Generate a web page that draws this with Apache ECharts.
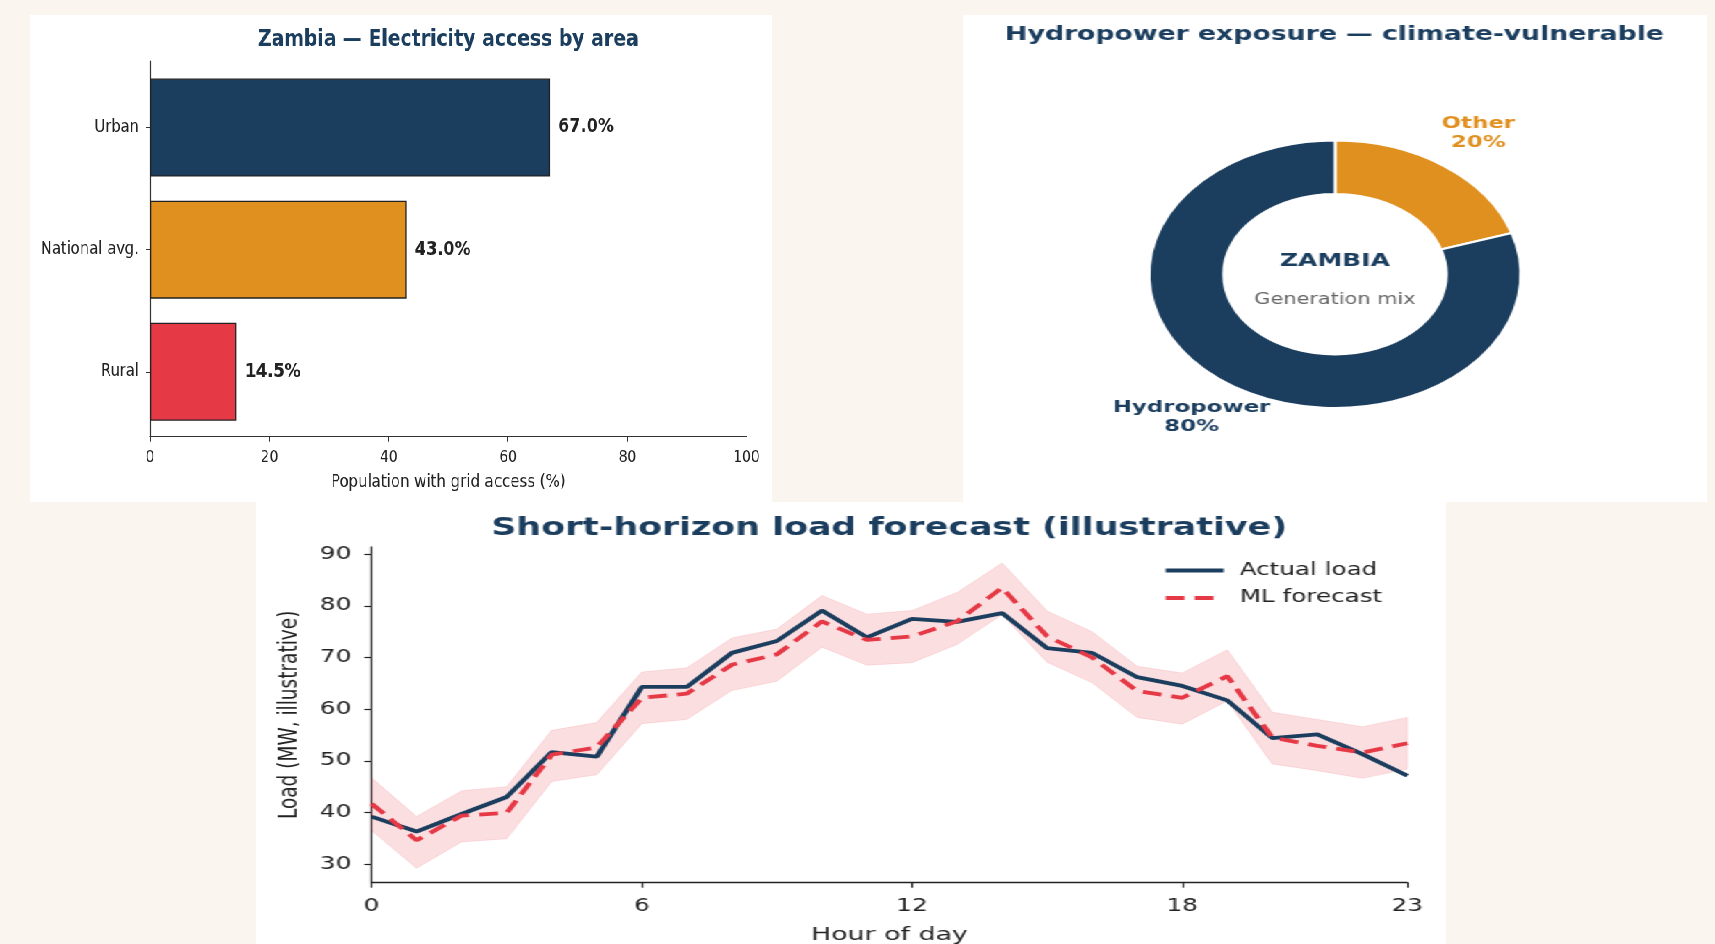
<!DOCTYPE html>
<html>
<head>
<meta charset="utf-8">
<title>Zambia electricity</title>
<script src="https://cdn.jsdelivr.net/npm/echarts@6/dist/echarts.min.js"></script>
<style>
  body {
    margin: 0;
    width: 1715px;
    height: 944px;
    overflow: hidden;
    position: relative;
    background: #faf6ef;
  }
  .panel {
    position: absolute;
    background: #fff;
  }
  /* the source image squashes / stretches each panel a little, so we do the same */
  #accessPanel { left: 30px; top: 15px; width: 878.1px; height: 487px; transform: scaleX(0.845); transform-origin: 0 0; }
  #mixPanel { left: 963px; top: 15px; width: 534.5px; height: 487px; transform: scaleX(1.39); transform-origin: 0 0; }
  #loadPanel { left: 256px; top: 502px; width: 820.7px; height: 442px; transform: scaleX(1.45); transform-origin: 0 0; }
</style>
</head>
<body>
<div id="accessPanel" class="panel"></div>
<div id="mixPanel" class="panel"></div>
<div id="loadPanel" class="panel"></div>

<script>
// ---- data ----
// access by area (bottom to top, like the chart)
const areas = ['Rural', 'National avg.', 'Urban']
const accessPct = [14.5, 43.0, 67.0]

// generation mix
const sources = ['Other', 'Hydropower']
const sharePct = [20, 80]

// load forecast
const hours = [0, 1, 2, 3, 4, 5, 6, 7, 8, 9, 10, 11, 12, 13, 14, 15, 16, 17, 18, 19, 20, 21, 22, 23]
const actualLoad = [39.2, 36.3, 39.7, 43.0, 51.7, 50.8, 64.3, 64.3, 70.9, 73.2, 79.1, 73.9, 77.5, 76.9, 78.6, 71.8, 70.9, 66.2, 64.5, 61.7, 54.4, 55.1, 51.3, 47.1]
const mlForecast = [41.7, 34.6, 39.4, 39.9, 51.2, 52.6, 62.2, 63.0, 68.6, 70.6, 77.0, 73.4, 74.1, 77.0, 83.5, 74.1, 70.0, 63.5, 62.2, 66.4, 54.5, 52.9, 51.6, 53.4]
const bandUpper = [46.7, 39.2, 44.2, 45.0, 55.9, 57.4, 67.2, 68.0, 73.8, 75.5, 82.0, 78.4, 79.1, 82.6, 88.3, 79.0, 75.0, 68.3, 67.0, 71.5, 59.4, 58.0, 56.6, 58.4]
const bandLower = [36.5, 29.2, 34.3, 34.9, 46.0, 47.3, 57.2, 58.0, 63.6, 65.4, 72.0, 68.5, 69.0, 72.5, 78.3, 69.1, 65.1, 58.4, 57.1, 61.6, 49.4, 48.1, 46.6, 48.4]
const hourTicks = [0, 6, 12, 18, 23]
const loadTicks = [30, 40, 50, 60, 70, 80, 90]

// ---- colours ----
const NAVY = '#1b3d5e'
const ORANGE = '#e0901f'
const RED = '#e63946'
const INK = '#222'
const areaColors = [RED, ORANGE, NAVY]
const sourceColors = [ORANGE, NAVY]

const SANS = "'DejaVu Sans', sans-serif"

// 电力接入柱状图
// grid 0 carries the visible spines and x ticks, grid 1 holds the bars (matplotlib leaves a margin above/below)
const accessChart = echarts.init(document.getElementById('accessPanel'))
accessChart.setOption({
  animation: false,
  title: {
    text: 'Zambia — Electricity access by area',
    left: 495,
    top: 10.8,
    padding: 0,
    textAlign: 'center',
    textStyle: { fontFamily: SANS, fontSize: 22.3, fontWeight: 'bold', color: NAVY, lineHeight: 28 }
  },
  grid: [
    { left: 142, right: 29.9, top: 46, bottom: 65.3, outerBoundsMode: 'none' },
    { left: 142, right: 29.9, top: 51.5, bottom: 69.2, outerBoundsMode: 'none' }
  ],
  xAxis: [
    {
      gridIndex: 0,
      type: 'value',
      min: 0,
      max: 100,
      interval: 20,
      splitLine: { show: false },
      axisLine: { show: true, lineStyle: { color: '#333', width: 1.2 } },
      axisTick: { show: true, length: 5, lineStyle: { color: '#333' } },
      axisLabel: { fontFamily: SANS, fontSize: 16.5, color: INK, margin: 13 },
      name: 'Population with grid access (%)',
      nameLocation: 'middle',
      nameGap: 37,
      nameTextStyle: { fontFamily: SANS, fontSize: 17.7, color: INK }
    },
    {
      gridIndex: 1,
      type: 'value',
      min: 0,
      max: 100,
      show: false
    }
  ],
  yAxis: [
    {
      gridIndex: 0,
      type: 'value',
      min: 0,
      max: 1,
      splitLine: { show: false },
      axisLine: { show: true, lineStyle: { color: '#333', width: 1.2 } },
      axisTick: { show: false },
      axisLabel: { show: false }
    },
    {
      gridIndex: 1,
      type: 'category',
      data: areas,
      axisLine: { show: false },
      axisTick: { show: true, alignWithLabel: true, length: 5, lineStyle: { color: '#333' } },
      axisLabel: { fontFamily: SANS, fontSize: 17.5, color: INK, margin: 13 }
    }
  ],
  series: [
    {
      type: 'bar',
      xAxisIndex: 1,
      yAxisIndex: 1,
      barWidth: 98,
      data: accessPct.map((v, i) => ({
        value: v,
        itemStyle: { color: areaColors[i], borderColor: '#222', borderWidth: 1.3 }
      })),
      label: {
        show: true,
        position: 'right',
        distance: 10,
        formatter: p => p.value.toFixed(1) + '%',
        fontFamily: SANS,
        fontSize: 19,
        fontWeight: 'bold',
        color: INK
      }
    }
  ]
})

// 发电结构环形图
const cx = 267.6
const cy = 259.3
const rOuter = 133.7
const mixChart = echarts.init(document.getElementById('mixPanel'))
mixChart.setOption({
  animation: false,
  title: {
    text: 'Hydropower exposure — climate-vulnerable',
    left: 267.3,
    top: 8,
    padding: 0,
    textAlign: 'center',
    textStyle: { fontFamily: SANS, fontSize: 19.2, fontWeight: 'bold', color: NAVY, lineHeight: 24 }
  },
  graphic: [
    {
      type: 'text',
      x: cx,
      y: 246,
      style: { text: 'ZAMBIA', font: 'bold 18px ' + SANS, fill: NAVY, align: 'center', verticalAlign: 'middle' }
    },
    {
      type: 'text',
      x: cx,
      y: 285,
      style: { text: 'Generation mix', font: '15px ' + SANS, fill: '#666', align: 'center', verticalAlign: 'middle' }
    }
  ],
  series: [
    {
      type: 'pie',
      center: [cx, cy],
      radius: [rOuter * 0.6, rOuter],
      startAngle: 90,
      clockwise: true,
      silent: true,
      label: { show: false },
      labelLine: { show: false },
      itemStyle: { borderColor: '#fff', borderWidth: 2 },
      data: sources.map((s, i) => ({ name: s, value: sharePct[i], itemStyle: { color: sourceColors[i] } }))
    },
    {
      // invisible ring just to place the outside labels on the slice mid-angles
      type: 'pie',
      center: [cx, cy + 1],
      radius: [rOuter * 1.16, rOuter * 1.42],
      startAngle: 90,
      clockwise: true,
      silent: true,
      itemStyle: { color: 'rgba(0,0,0,0)' },
      labelLine: { show: false },
      label: {
        show: true,
        position: 'inside',
        formatter: p => p.name + '\n' + p.value + '%',
        fontFamily: SANS,
        fontSize: 16.5,
        fontWeight: 'bold',
        lineHeight: 18.5
      },
      data: sources.map((s, i) => ({ name: s, value: sharePct[i], label: { color: sourceColors[i] } }))
    }
  ]
})

// 负荷预测折线图
const loadChart = echarts.init(document.getElementById('loadPanel'))
loadChart.setOption({
  animation: false,
  title: {
    text: 'Short-horizon load forecast (illustrative)',
    left: 436.7,
    top: 13,
    padding: 0,
    textAlign: 'center',
    textStyle: { fontFamily: SANS, fontSize: 24, fontWeight: 'bold', color: NAVY, lineHeight: 28 }
  },
  legend: {
    data: ['Actual load', 'ML forecast'],
    orient: 'vertical',
    left: 625.5,
    top: 60,
    padding: 0,
    itemWidth: 40,
    itemHeight: 14,
    itemGap: 10.5,
    itemStyle: { opacity: 0 },
    lineStyle: { width: 3.8 },
    textStyle: { fontFamily: SANS, fontSize: 17, color: INK, padding: [0, 0, 0, 6] }
  },
  grid: { left: 79.7, right: 26.9, top: 45, bottom: 61.3, outerBoundsMode: 'none' },
  xAxis: {
    type: 'value',
    min: 0,
    max: 23,
    splitLine: { show: false },
    axisLine: { show: true, lineStyle: { color: '#222', width: 1.3 } },
    axisTick: { show: true, length: 5, customValues: hourTicks, lineStyle: { color: '#222', width: 1.2 } },
    axisLabel: { customValues: hourTicks, fontFamily: SANS, fontSize: 17, color: INK, margin: 15.5 },
    name: 'Hour of day',
    nameLocation: 'middle',
    nameGap: 42.5,
    nameTextStyle: { fontFamily: SANS, fontSize: 18.5, color: INK }
  },
  yAxis: {
    type: 'value',
    min: 26.4,
    max: 91.4,
    splitLine: { show: false },
    axisLine: { show: true, lineStyle: { color: '#222', width: 1.3 } },
    axisTick: { show: true, length: 5, customValues: loadTicks, lineStyle: { color: '#222', width: 1.2 } },
    axisLabel: { customValues: loadTicks, fontFamily: SANS, fontSize: 17, color: INK, margin: 14 },
    name: 'Load (MW, illustrative)',
    nameLocation: 'middle',
    nameGap: 46,
    nameRotate: 90,
    nameTextStyle: { fontFamily: SANS, fontSize: 18.5, color: INK }
  },
  series: [
    {
      name: 'band',
      type: 'custom',
      silent: true,
      z: 1,
      data: [[hours[0], bandLower[0]]],
      renderItem: (params, api) => {
        const pts = []
        hours.forEach((h, i) => pts.push(api.coord([h, bandUpper[i]])))
        for (let i = hours.length - 1; i >= 0; i--) pts.push(api.coord([hours[i], bandLower[i]]))
        return {
          type: 'polygon',
          shape: { points: pts },
          style: { fill: 'rgba(230,57,70,0.17)', stroke: 'rgba(230,57,70,0.12)', lineWidth: 1 }
        }
      }
    },
    {
      name: 'Actual load',
      type: 'line',
      z: 3,
      symbol: 'none',
      data: hours.map((h, i) => [h, actualLoad[i]]),
      lineStyle: { color: NAVY, width: 3.8 },
      itemStyle: { color: NAVY }
    },
    {
      name: 'ML forecast',
      type: 'line',
      z: 4,
      symbol: 'none',
      data: hours.map((h, i) => [h, mlForecast[i]]),
      lineStyle: { color: RED, width: 3.8, type: [13, 7] },
      itemStyle: { color: RED }
    }
  ]
})
</script>
</body>
</html>
